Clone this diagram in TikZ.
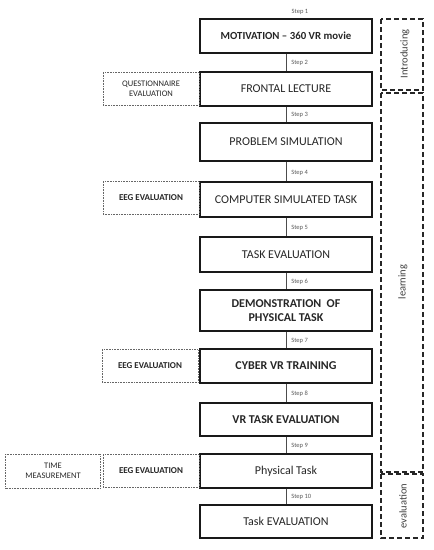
\documentclass[tikz,border=0pt]{standalone}
\usepackage{fontspec}
\setmainfont{Carlito}
\begin{document}
\begin{tikzpicture}[x=1pt,y=-1pt,
  mainbox/.style={draw=black!90, line width=1.4pt, minimum width=172pt, align=center,
     inner sep=0pt, text=black!85, font=\fontsize{12}{14}\selectfont},
  boldbox/.style={mainbox, font=\fontsize{12}{14}\selectfont\bfseries},
  sidebox/.style={draw=black!60, densely dotted, line width=0.6pt, minimum width=96pt,
     minimum height=33pt, inner sep=0pt, align=center, text=black!85,
     font=\fontsize{8.5}{10}\selectfont},
  sidebold/.style={sidebox, font=\fontsize{9}{10.5}\selectfont\bfseries},
  groupbox/.style={draw=black!85, dashed, dash pattern=on 5pt off 3pt, line width=1.4pt},
  grouplabel/.style={rotate=90, text=black!75, font=\fontsize{10.5}{12}\selectfont},
  steplabel/.style={text=black!65, font=\fontsize{6.5}{7}\selectfont, inner sep=1pt},
  conn/.style={draw=black!70, line width=0.6pt}]
\useasboundingbox (0,0) rectangle (434,550);
% main boxes
\node[boldbox, minimum height=34pt, font=\fontsize{10.8}{12}\selectfont\bfseries] (b1) at (286,36) {MOTIVATION -- 360 VR movie};
\node[mainbox, minimum height=34pt] (b2) at (286,89) {FRONTAL LECTURE};
\node[mainbox, minimum height=38pt] (b3) at (286,142) {PROBLEM SIMULATION};
\node[mainbox, minimum height=35pt] (b4) at (286,199.5) {COMPUTER SIMULATED TASK};
\node[mainbox, minimum height=35pt] (b5) at (286,254.5) {TASK EVALUATION};
\node[boldbox, minimum height=41pt] (b6) at (286,310.5) {DEMONSTRATION\ \ OF\\PHYSICAL TASK};
\node[boldbox, minimum height=34pt] (b7) at (286,366) {CYBER VR TRAINING};
\node[boldbox, minimum height=33pt] (b8) at (286,419.5) {VR TASK EVALUATION};
\node[mainbox, minimum height=34pt] (b9) at (286,471) {Physical Task};
\node[mainbox, minimum height=33pt] (b10) at (286,521.5) {Task EVALUATION};
% step labels
\node[steplabel] (s1) at (300,12) {Step 1};
\draw[conn] (b1) -- (b2) node[steplabel, pos=0.55, anchor=west, xshift=4pt] (s2) {Step 2};
\draw[conn] (b2) -- (b3) node[steplabel, pos=0.55, anchor=west, xshift=4pt] (s3) {Step 3};
\draw[conn] (b3) -- (b4) node[steplabel, pos=0.55, anchor=west, xshift=4pt] (s4) {Step 4};
\draw[conn] (b4) -- (b5) node[steplabel, pos=0.55, anchor=west, xshift=4pt] (s5) {Step 5};
\draw[conn] (b5) -- (b6) node[steplabel, pos=0.55, anchor=west, xshift=4pt] (s6) {Step 6};
\draw[conn] (b6) -- (b7) node[steplabel, pos=0.55, anchor=west, xshift=4pt] (s7) {Step 7};
\draw[conn] (b7) -- (b8) node[steplabel, pos=0.55, anchor=west, xshift=4pt] (s8) {Step 8};
\draw[conn] (b8) -- (b9) node[steplabel, pos=0.55, anchor=west, xshift=4pt] (s9) {Step 9};
\draw[conn] (b9) -- (b10) node[steplabel, pos=0.55, anchor=west, xshift=4pt] (s10) {Step 10};
% side boxes
\node[sidebox] (q) at (151,89) {QUESTIONNAIRE\\EVALUATION};
\node[sidebold] (e4) at (151,198) {EEG EVALUATION};
\node[sidebold] (e7) at (150,366) {EEG EVALUATION};
\node[sidebold] (e9) at (151,471) {EEG EVALUATION};
\node[sidebox, minimum width=95pt, minimum height=34pt] (t9) at (53,471) {TIME\\MEASUREMENT};
% group boxes
\draw[groupbox] (381,19) rectangle (423,90);
\draw[groupbox] (381,93) rectangle (423,472);
\draw[groupbox] (381,474) rectangle (423,538);
\node[grouplabel] (g1) at (405,54) {Introducing};
\node[grouplabel] (g2) at (403,282) {learning};
\node[grouplabel] (g3) at (403,506) {evaluation};
\end{tikzpicture}
\end{document}
